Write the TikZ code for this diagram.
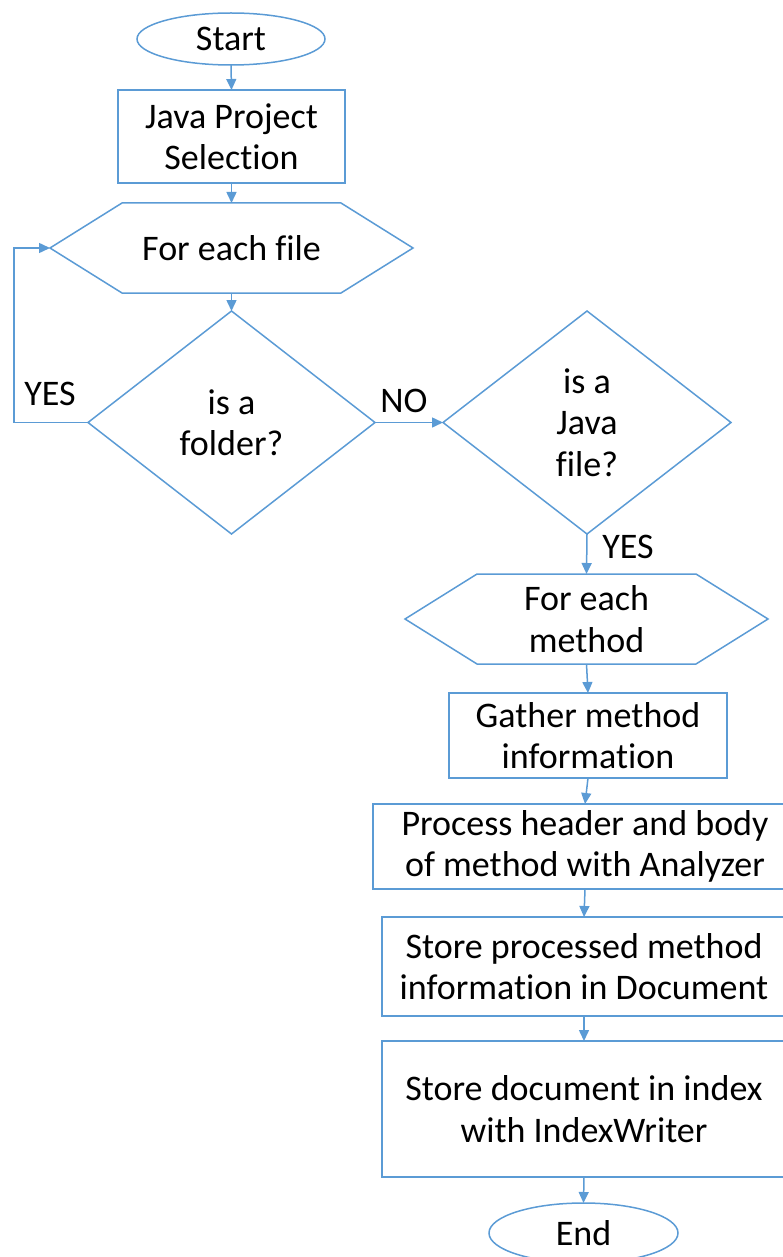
\documentclass[tikz,border=0pt]{standalone}
\usepackage{fontspec}
\setmainfont{Carlito}[Ligatures=NoCommon]
\usetikzlibrary{shapes.geometric,arrows.meta}
\definecolor{flowblue}{HTML}{5B9BD5}
\begin{document}
\begin{tikzpicture}[x=1pt,y=-1pt,
  txt/.style={font=\fontsize{36}{41.5}\selectfont, align=center, text=black, inner sep=0pt, outer sep=0pt},
  line/.style={draw=flowblue, line width=1.5pt, line join=miter},
  arr/.style={line, -{Triangle[length=11pt,width=10pt]}},
  box/.style={txt, line, rectangle},
  term/.style={txt, line, ellipse},
  frame/.style={txt, draw=none}
]
\useasboundingbox (0,0) rectangle (783,1257);
\clip (0,0) rectangle (783,1257);

% terminals and process boxes
\node[term, minimum width=188pt, minimum height=52pt] (start) at (231,39) {Start};
\node[box, minimum width=227pt, minimum height=93pt] (jps) at (231.5,136.5) {Java Project\\Selection};

% loop over files (hexagon)
\node[frame, minimum width=363pt, minimum height=90pt] (fef) at (231.5,248) {For each file};
\draw[line] (fef.west) -- ([xshift=72pt]fef.north west) -- ([xshift=-72pt]fef.north east)
  -- (fef.east) -- ([xshift=-72pt]fef.south east) -- ([xshift=72pt]fef.south west) -- cycle;

% decisions
\node[frame, minimum width=287pt, minimum height=223pt] (fol) at (231.5,422.5) {is a\\folder?};
\draw[line] (fol.north) -- (fol.east) -- (fol.south) -- (fol.west) -- cycle;
\node[frame, minimum width=288pt, minimum height=223pt] (jav) at (587,422.5) {is a\\Java\\file?};
\draw[line] (jav.north) -- (jav.east) -- (jav.south) -- (jav.west) -- cycle;

% loop over methods (hexagon)
\node[frame, minimum width=363pt, minimum height=90pt] (fem) at (586.5,619) {For each\\method};
\draw[line] (fem.west) -- ([xshift=72pt]fem.north west) -- ([xshift=-72pt]fem.north east)
  -- (fem.east) -- ([xshift=-72pt]fem.south east) -- ([xshift=72pt]fem.south west) -- cycle;

\node[box, minimum width=278pt, minimum height=85pt] (gat) at (588,735.5) {Gather method\\information};
\node[box, minimum width=424pt, minimum height=85pt] (pro) at (585,846.5) {Process header and body\\of method with Analyzer};
\node[box, minimum width=404pt, minimum height=99pt] (spm) at (584,966.5) {Store processed method\\information in Document};
\node[box, minimum width=404pt, minimum height=136pt] (sdi) at (584,1109) {Store document in index\\with IndexWriter};
\node[term, minimum width=189pt, minimum height=60pt] (end) at (583.5,1233) {End};

% connectors
\coordinate (lp) at (14,248);
\draw[arr] (start.south) -- (jps.north);
\draw[arr] (jps.south) -- (fef.north);
\draw[arr] (fef.south) -- (fol.north);
\draw[arr] (fol.west) -| (lp) -- (fef.west);
\draw[arr] (fol.east) -- (jav.west);
\draw[arr] (jav.south) -- (fem.north);
\draw[arr] (fem.south) -- (gat.north);
\draw[arr] (gat.south) -- (pro.north);
\draw[arr] (pro.south) -- (spm.north);
\draw[arr] (spm.south) -- (sdi.north);
\draw[arr] (sdi.south) -- (end.north);

% branch labels
\node[txt] (lyes) at (50,394) {YES};
\node[txt] (lno) at (404,401) {NO};
\node[txt] (lyes2) at (628,547) {YES};
\end{tikzpicture}
\end{document}
